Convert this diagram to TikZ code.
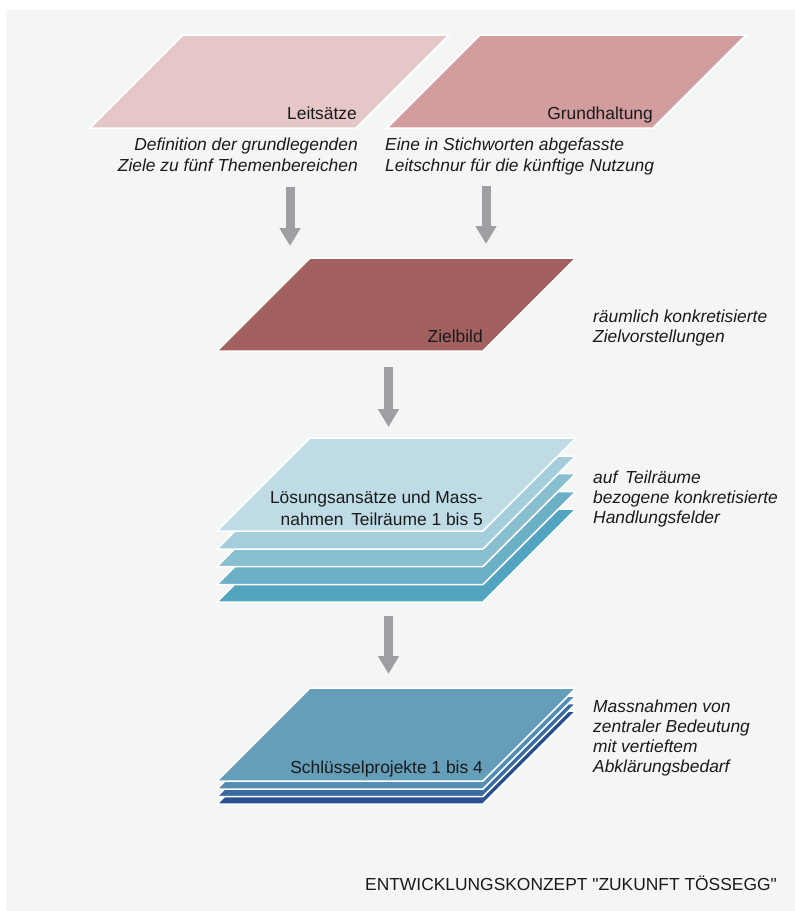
\documentclass[tikz,border=0pt]{standalone}
\usepackage{fontspec}
\setmainfont{Liberation Sans}
\newfontfamily\footfont[Ligatures=TeXOff]{Liberation Sans}
\usetikzlibrary{arrows.meta}
\definecolor{bg}{HTML}{F4F6F5}
\definecolor{arrowgray}{HTML}{9D9FA2}
\definecolor{txt}{HTML}{1A1A1A}
\definecolor{cLeit}{HTML}{E6C7C8}
\definecolor{cGrund}{HTML}{D29D9F}
\definecolor{cZiel}{HTML}{A2605F}
\definecolor{cLa}{HTML}{BFDCE6}
\definecolor{cLb}{HTML}{A5CEDD}
\definecolor{cLc}{HTML}{88BFD0}
\definecolor{cLd}{HTML}{6BB0C7}
\definecolor{cLe}{HTML}{52A3BD}
\definecolor{cSa}{HTML}{659EB8}
\definecolor{cSb}{HTML}{558DB3}
\definecolor{cSc}{HTML}{3A6CA3}
\definecolor{cSd}{HTML}{2A5092}
\newcommand\pplate[3]{\filldraw[plate, fill=#3] (#1+93,#2-93) -- (#1+359,#2-93) -- (#1+266,#2) -- (#1,#2) -- cycle;}
\begin{document}
\begin{tikzpicture}[x=1pt,y=-1pt,
  plate/.style={draw=white, line width=1.5pt, line join=miter},
  lbl/.style={inner sep=0pt, text=txt, font=\fontsize{17.4}{20}\selectfont},
  captxt/.style={inner sep=0pt, text=txt, font=\fontsize{17.4}{20}\selectfont\itshape},
  flow/.style={draw=arrowgray, line width=9pt, -{Triangle[length=18pt,width=20pt]}}]
\useasboundingbox (0,0) rectangle (795,911);
\fill[white] (0,0) rectangle (795,911);
\fill[bg] (6,10) rectangle (795,911);

% top plates
\pplate{90}{128}{cLeit}
\pplate{387}{128}{cGrund}
\node[lbl, anchor=base east] (tLeit) at (357,119) {Leitsätze};
\node[lbl, anchor=base east] (tGrund) at (653,119) {Grundhaltung};
\node[captxt, anchor=base east] (cl1) at (358,150) {Definition der grundlegenden};
\node[captxt, anchor=base east] (cl2) at (358,171) {Ziele zu fünf Themenbereichen};
\node[captxt, anchor=base west] (cr1) at (385,150) {Eine in Stichworten abgefasste};
\node[captxt, anchor=base west] (cr2) at (385,171) {Leitschnur für die künftige Nutzung};

% Zielbild
\pplate{217}{351}{cZiel}
\node[lbl, anchor=base east] (tZiel) at (483,342) {Zielbild};
\node[captxt, anchor=base west] (rz1) at (593,322) {räumlich konkretisierte};
\node[captxt, anchor=base west] (rz2) at (593,342) {Zielvorstellungen};

% Lösungsansätze stack
\pplate{217}{602}{cLe}
\pplate{217}{584.5}{cLd}
\pplate{217}{566.5}{cLc}
\pplate{217}{549}{cLb}
\pplate{217}{531}{cLa}
\node[lbl, anchor=base east] (tL1) at (483,503) {Lösungsansätze und Mass-};
\node[lbl, anchor=base east] (tL2) at (483,525) {nahmen\, Teilräume 1 bis 5};
\node[captxt, anchor=base west] (rl1) at (593,483) {auf\, Teilräume};
\node[captxt, anchor=base west] (rl2) at (593,503) {bezogene konkretisierte};
\node[captxt, anchor=base west] (rl3) at (593,523) {Handlungsfelder};

% Schlüsselprojekte stack
\pplate{217}{804}{cSd}
\pplate{217}{796.5}{cSc}
\pplate{217}{789}{cSb}
\pplate{217}{781}{cSa}
\node[lbl, anchor=base east] (tS) at (483,773) {Schlüsselprojekte 1 bis 4};
\node[captxt, anchor=base west] (rs1) at (593,712) {Massnahmen von};
\node[captxt, anchor=base west] (rs2) at (593,732.5) {zentraler Bedeutung};
\node[captxt, anchor=base west] (rs3) at (593,752.5) {mit vertieftem};
\node[captxt, anchor=base west] (rs4) at (593,772.5) {Abklärungsbedarf};

% arrows
\coordinate (a1s) at (290,187); \coordinate (a1e) at (290,246);
\coordinate (a2s) at (486,186); \coordinate (a2e) at (486,244);
\coordinate (a3s) at (388.5,367); \coordinate (a3e) at (388.5,427);
\coordinate (a4s) at (388.5,616); \coordinate (a4e) at (388.5,674);
\draw[flow] (a1s) -- (a1e);
\draw[flow] (a2s) -- (a2e);
\draw[flow] (a3s) -- (a3e);
\draw[flow] (a4s) -- (a4e);

\node[lbl, anchor=base east, font=\fontsize{17.4}{20}\footfont] (foot) at (777,890) {ENTWICKLUNGSKONZEPT "ZUKUNFT TÖSSEGG"};
\end{tikzpicture}
\end{document}
